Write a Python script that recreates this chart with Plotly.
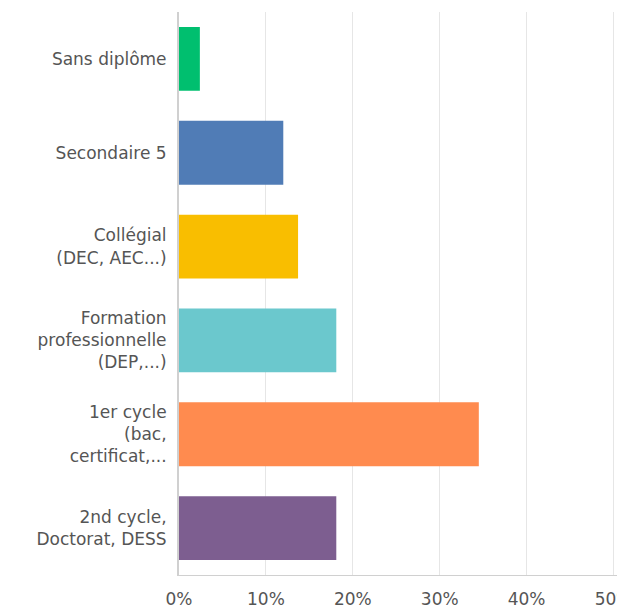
import plotly.graph_objects as go

categories = [
    "Sans diplôme",
    "Secondaire 5",
    "Collégial<br>(DEC, AEC...)",
    "Formation<br>professionnelle<br>(DEP,...)",
    "1er cycle<br>(bac,<br>certificat,...",
    "2nd cycle,<br>Doctorat, DESS",
]
values = [2.4, 12.0, 13.7, 18.1, 34.5, 18.1]
colors = ["#00bf6f", "#507cb6", "#f9be00", "#6bc8cd", "#ff8b4f", "#7d5e90"]
tick_vals = [0, 10, 20, 30, 40, 50]
tick_text = ["0%", "10%", "20%", "30%", "40%", "50%"]

fig = go.Figure()
fig.add_trace(go.Bar(
    x=values,
    y=categories,
    orientation="h",
    marker=dict(color=colors, line=dict(width=0)),
    width=0.68,
    hoverinfo="x+y",
))

fig.update_layout(
    width=617,
    height=609,
    margin=dict(l=179, r=0, t=12, b=34),
    paper_bgcolor="white",
    plot_bgcolor="white",
    font=dict(family="DejaVu Sans", size=17, color="#555555"),
    showlegend=False,
)

fig.update_xaxes(
    range=[0, 50.4],
    tickvals=tick_vals,
    ticktext=tick_text,
    showgrid=True,
    gridcolor="#e6e6e6",
    gridwidth=1,
    showline=True,
    linecolor="#d0d0d0",
    linewidth=1,
    zeroline=False,
    ticks="",
    ticklabelstandoff=9,
    ticklabeloverflow="allow",
    automargin=False,
)

fig.update_yaxes(
    autorange="reversed",
    showgrid=False,
    showline=True,
    linecolor="#d0d0d0",
    linewidth=2,
    zeroline=False,
    ticks="",
    ticklabelstandoff=7,
    automargin=False,
)

# pas de marge du navigateur autour du graphique
fig.write_html("out.html", config={"displayModeBar": False},
               post_script="document.body.style.margin='0';")
